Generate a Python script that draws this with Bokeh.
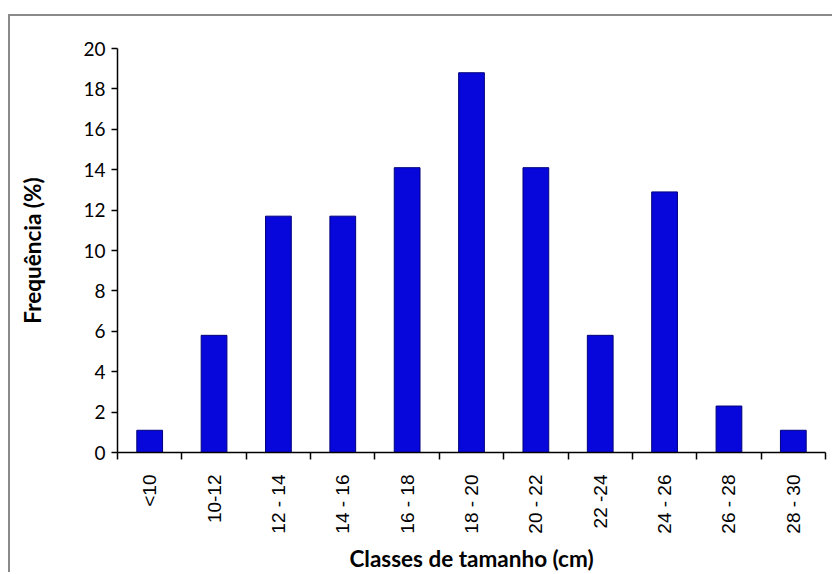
import math
from bokeh.plotting import figure
from bokeh.models import FixedTicker, Range1d, ColumnDataSource
from bokeh.embed import file_html
from bokeh.resources import INLINE

categories = ["<10", "10-12", "12 - 14", "14 - 16", "16 - 18", "18 - 20",
              "20 - 22", "22 -24", "24 - 26", "26 - 28", "28 - 30"]
frequency = [1.1, 5.8, 11.7, 11.7, 14.1, 18.8, 14.1, 5.8, 12.9, 2.3, 1.1]
y_ticks = [0, 2, 4, 6, 8, 10, 12, 14, 16, 18, 20]

n = len(categories)
centers = [i + 0.5 for i in range(n)]
bounds = [i for i in range(n + 1)]

p = figure(width=824, height=558, output_backend="svg", toolbar_location=None,
           x_range=Range1d(0, n), y_range=Range1d(0, 20),
           min_border_left=107, min_border_right=9, min_border_top=32,
           min_border_bottom=122,
           styles={"border-top": "2px solid #8a8a8a", "border-left": "2px solid #8a8a8a",
                   "margin-top": "14px", "margin-left": "8px"})
p.outline_line_color = None
p.xgrid.visible = False
p.ygrid.visible = False

src = ColumnDataSource(dict(x=centers, top=frequency))
p.vbar(x="x", top="top", width=0.4, bottom=0, source=src,
       fill_color="#0707dc", line_color="#00007a", line_width=1)

# y axis
p.yaxis.ticker = FixedTicker(ticks=y_ticks)
p.yaxis.major_tick_in = 0
p.yaxis.major_tick_out = 6
p.yaxis.minor_tick_line_color = None
p.yaxis.axis_line_color = "black"
p.yaxis.axis_line_width = 1.5
p.yaxis.major_tick_line_width = 1.5
p.yaxis.major_label_text_font = "Lato"
p.yaxis.major_label_text_font_size = "19px"
p.yaxis.major_label_text_color = "black"
p.yaxis.major_label_standoff = 6
p.yaxis.axis_label = "Frequência (%)"
p.yaxis.axis_label_text_font = "Lato"
p.yaxis.axis_label_text_font_style = "bold"
p.yaxis.axis_label_text_font_size = "22.5px"
p.yaxis.axis_label_text_color = "black"
p.yaxis.axis_label_standoff = 34

# x axis: labels at centers, ticks at class boundaries
p.xaxis.ticker = FixedTicker(ticks=centers, minor_ticks=bounds)
p.xaxis.major_label_overrides = {c: lab for c, lab in zip(centers, categories)}
p.xaxis.major_tick_line_color = None
p.xaxis.minor_tick_in = 0
p.xaxis.minor_tick_out = 7
p.xaxis.minor_tick_line_width = 1.5
p.xaxis.minor_tick_line_color = "black"
p.xaxis.axis_line_color = "black"
p.xaxis.axis_line_width = 1.5
p.xaxis.major_label_orientation = math.pi / 2
p.xaxis.major_label_text_font = "Liberation Sans"
p.xaxis.major_label_text_font_size = "19px"
p.xaxis.major_label_text_color = "black"
p.xaxis.major_label_standoff = 15
p.xaxis.axis_label = "Classes de tamanho (cm)"
p.xaxis.axis_label_text_font = "Lato"
p.xaxis.axis_label_text_font_style = "bold"
p.xaxis.axis_label_text_font_size = "22.5px"
p.xaxis.axis_label_text_color = "black"
p.xaxis.axis_label_standoff = 8

open("out.html", "w").write(file_html(p, INLINE))
